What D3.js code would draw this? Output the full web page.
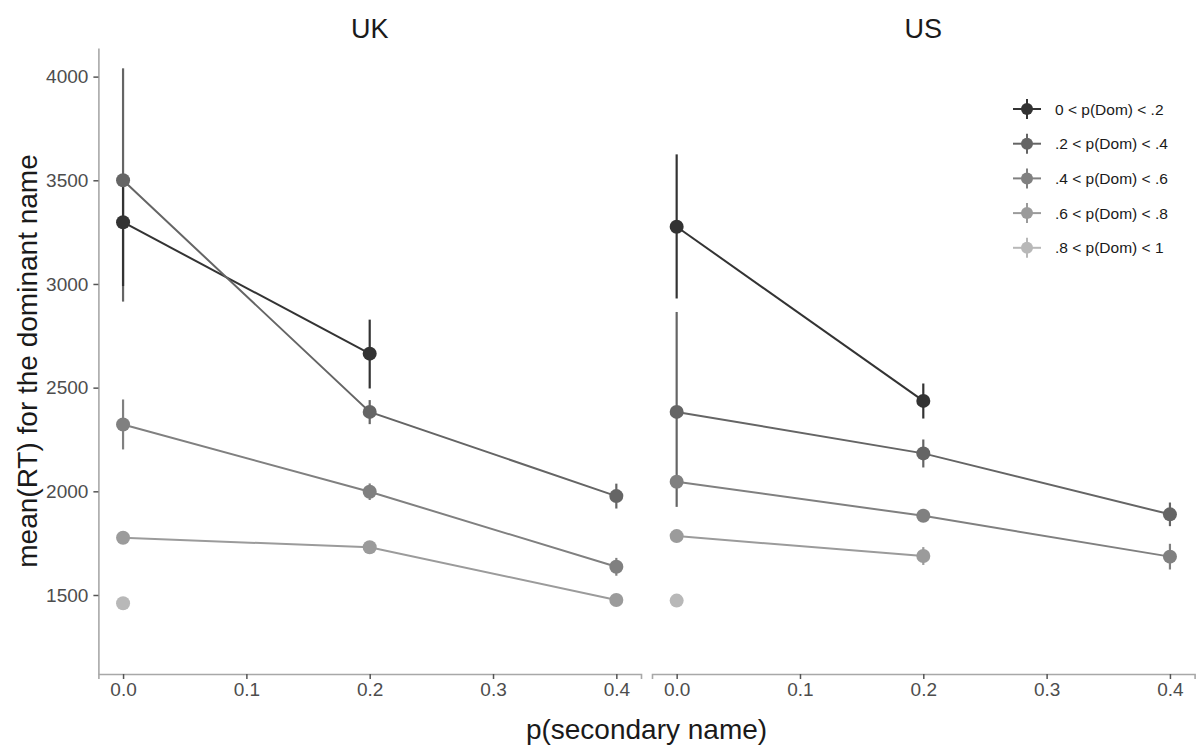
<!DOCTYPE html>
<html>
<head>
<meta charset="utf-8">
<script src="https://cdn.jsdelivr.net/npm/d3@7/dist/d3.min.js"></script>
<style>
  html, body { margin: 0; padding: 0; background: #fff; }
  svg { display: block; font-family: "Liberation Sans", Arial, Helvetica, sans-serif; }
</style>
</head>
<body>
<svg id="chart" width="1198" height="745"></svg>
<script>
// Facets (country) and the p(Dom) bins used as the colour groups
const countries = ["UK", "US"];
const groups = ["0 < p(Dom) < .2", ".2 < p(Dom) < .4", ".4 < p(Dom) < .6", ".6 < p(Dom) < .8", ".8 < p(Dom) < 1"];
const groupColors = ["#333333", "#656565", "#808080", "#9b9b9b", "#b8b8b8"];

// x values: p(secondary name)
const pSecondary = [0, 0.2, 0.4];

// mean RT per group (rows) at each p(secondary) value (columns); null = no cell
const ukMean = [
  [3298, 2664, null],
  [3500, 2383, 1977],
  [2322, 1998, 1636],
  [1776, 1730, 1476],
  [1460, null, null]
];
const ukLow = [
  [2990, 2496, null],
  [2915, 2324, 1917],
  [2202, 1958, 1593],
  [1756, 1710, 1456],
  [1450, null, null]
];
const ukHigh = [
  [3500, 2828, null],
  [4040, 2440, 2037],
  [2443, 2038, 1679],
  [1796, 1750, 1496],
  [1470, null, null]
];

const usMean = [
  [3276, 2436, null],
  [2383, 2183, 1889],
  [2046, 1882, 1685],
  [1784, 1688, null],
  [1473, null, null]
];
const usLow = [
  [2930, 2351, null],
  [1925, 2115, 1832],
  [2022, 1852, 1623],
  [1766, 1645, null],
  [1463, null, null]
];
const usHigh = [
  [3625, 2520, null],
  [2865, 2250, 1946],
  [2070, 1912, 1747],
  [1802, 1731, null],
  [1483, null, null]
];

const xTicks = [0, 0.1, 0.2, 0.3, 0.4];
const yTicks = [1500, 2000, 2500, 3000, 3500, 4000];

const xTitle = "p(secondary name)";
const yTitle = "mean(RT) for the dominant name";

// ---- layout ----
const svg = d3.select("#chart");
const panelTop = 48, panelBottom = 674;
const panelWidth = 542.6, panelGap = 11;
const panelLeft = [98.4, 98.4 + panelWidth + panelGap];

const y = d3.scaleLinear().domain([1119, 4138]).range([panelBottom, panelTop]);

const tables = {
  UK: { mean: ukMean, low: ukLow, high: ukHigh },
  US: { mean: usMean, low: usLow, high: usHigh }
};

countries.forEach((country, ci) => {
  const x0 = panelLeft[ci];
  const x = d3.scaleLinear().domain([-0.02, 0.42]).range([x0, x0 + panelWidth]);
  const g = svg.append("g");

  // strip label
  g.append("text")
    .attr("x", x0 + panelWidth / 2)
    .attr("y", 38)
    .attr("text-anchor", "middle")
    .attr("font-size", 27)
    .attr("fill", "#1a1a1a")
    .text(country);

  // x axis
  const xAxis = g.append("g")
    .attr("transform", `translate(0,${panelBottom})`)
    .call(d3.axisBottom(x).tickValues(xTicks).tickFormat(d3.format(".1f")).tickSize(5).tickPadding(4));
  xAxis.select(".domain").attr("stroke", "#a8a8a8").attr("stroke-width", 1.6);
  xAxis.selectAll(".tick line").attr("stroke", "#555").attr("stroke-width", 1.5);
  xAxis.selectAll(".tick text")
    .attr("font-size", 19).attr("fill", "#4d4d4d")
    .attr("font-family", "Liberation Sans, Arial, sans-serif");

  // y axis only on the first panel
  if (ci === 0) {
    const yAxis = g.append("g")
      .attr("transform", `translate(${x0},0)`)
      .call(d3.axisLeft(y).tickValues(yTicks).tickFormat(d3.format("d")).tickSize(5).tickPadding(5).tickSizeOuter(0));
    yAxis.select(".domain").attr("stroke", "#a8a8a8").attr("stroke-width", 1.6);
    yAxis.selectAll(".tick line").attr("stroke", "#555").attr("stroke-width", 1.5);
    yAxis.selectAll(".tick text")
      .attr("font-size", 19).attr("fill", "#4d4d4d")
      .attr("font-family", "Liberation Sans, Arial, sans-serif");
  }

  const t = tables[country];
  const rows = groups.map((name, gi) => pSecondary.map((p, k) => ({
    p, m: t.mean[gi][k], lo: t.low[gi][k], hi: t.high[gi][k], gi
  })).filter(d => d.m !== null));

  // connecting lines
  const line = d3.line().x(d => x(d.p)).y(d => y(d.m));
  rows.forEach((pts, gi) => {
    if (pts.length > 1) {
      g.append("path").datum(pts)
        .attr("d", line)
        .attr("fill", "none")
        .attr("stroke", groupColors[gi])
        .attr("stroke-width", 2);
    }
  });

  // error bars, lightest group first so the darker bars sit on top
  for (let gi = groups.length - 1; gi >= 0; gi--) {
    g.selectAll(null).data(rows[gi]).enter().append("line")
      .attr("x1", d => x(d.p)).attr("x2", d => x(d.p))
      .attr("y1", d => y(d.lo)).attr("y2", d => y(d.hi))
      .attr("stroke", groupColors[gi])
      .attr("stroke-width", 2.2);
  }

  // points
  rows.forEach((pts, gi) => {
    g.selectAll(null).data(pts).enter().append("circle")
      .attr("cx", d => x(d.p)).attr("cy", d => y(d.m))
      .attr("r", 7)
      .attr("fill", groupColors[gi]);
  });
});

// axis titles
svg.append("text")
  .attr("x", panelLeft[0] + (2 * panelWidth + panelGap) / 2)
  .attr("y", 739)
  .attr("text-anchor", "middle")
  .attr("font-size", 28)
  .attr("fill", "#1a1a1a")
  .text(xTitle);

svg.append("text")
  .attr("transform", `translate(37,${(panelTop + panelBottom) / 2}) rotate(-90)`)
  .attr("text-anchor", "middle")
  .attr("font-size", 28)
  .attr("fill", "#1a1a1a")
  .text(yTitle);

// legend
const legend = svg.append("g");
const legendY0 = 109, legendStep = 34.7, keyX = 1027;
groups.forEach((name, gi) => {
  const cy = legendY0 + gi * legendStep;
  const item = legend.append("g");
  item.append("line")
    .attr("x1", keyX - 14).attr("x2", keyX + 14)
    .attr("y1", cy).attr("y2", cy)
    .attr("stroke", groupColors[gi]).attr("stroke-width", 2);
  item.append("line")
    .attr("x1", keyX).attr("x2", keyX)
    .attr("y1", cy - 10).attr("y2", cy + 10)
    .attr("stroke", groupColors[gi]).attr("stroke-width", 2);
  item.append("circle")
    .attr("cx", keyX).attr("cy", cy).attr("r", 6)
    .attr("fill", groupColors[gi]);
  item.append("text")
    .attr("x", 1055).attr("y", cy + 5.5)
    .attr("font-size", 15.5)
    .attr("fill", "#1a1a1a")
    .text(name);
});
</script>
</body>
</html>
